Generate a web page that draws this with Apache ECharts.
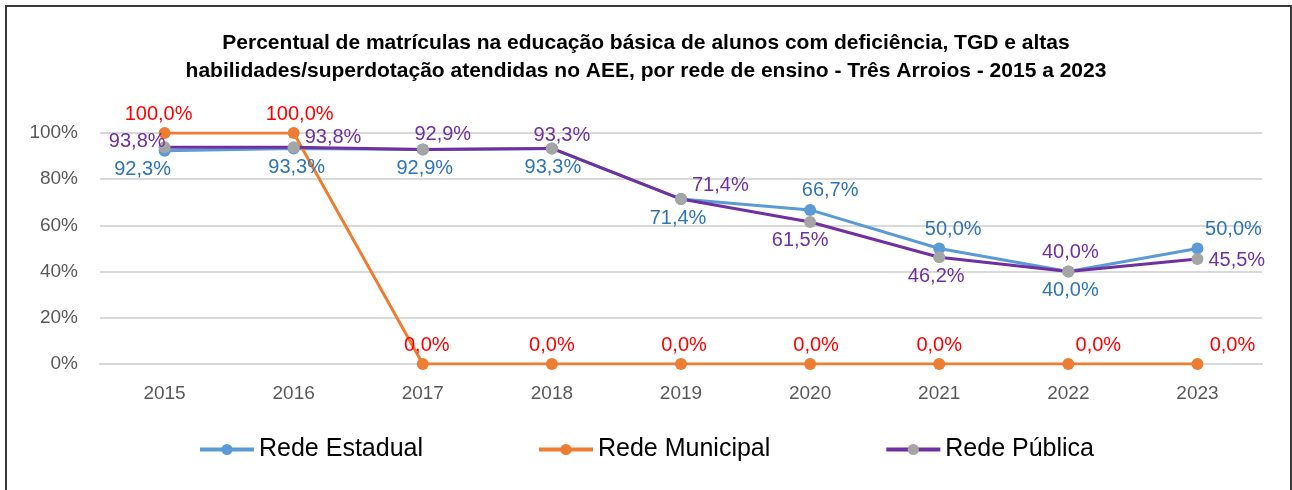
<!DOCTYPE html>
<html>
<head>
<meta charset="utf-8">
<script src="https://cdn.jsdelivr.net/npm/echarts@6/dist/echarts.min.js"></script>
<style>
  html, body { margin: 0; padding: 0; background: #fff; }
  #main { position: absolute; left: 0; top: 0; width: 1292px; height: 490px; }
  #frame { position: absolute; left: 5px; top: 5px; width: 1283px; height: 500px; border: 2px solid #3a3a3a; pointer-events: none; }
</style>
</head>
<body>
<div id="main"></div>
<div id="frame"></div>
<script>
const years = ['2015', '2016', '2017', '2018', '2019', '2020', '2021', '2022', '2023']
const estadual = [92.3, 93.3, 92.9, 93.3, 71.4, 66.7, 50.0, 40.0, 50.0]
const municipal = [100, 100, 0, 0, 0, 0, 0, 0, 0]
const publica = [93.8, 93.8, 92.9, 93.3, 71.4, 61.5, 46.2, 40.0, 45.5]
const yTicks = [0, 20, 40, 60, 80, 100]

// label placement per point, copied by eye from the reference
const estadualPos = [['bottom', [-22, -2]], ['bottom', [3, -2]], ['bottom', [2, -2]], ['bottom', [1, -2]], ['bottom', [-3, -2]], ['top', [20, 2]], ['top', [14, 2]], ['bottom', [2, -2]], ['top', [36, 2]]]
const municipalPos = [['top', [-6, 2]], ['top', [6, 2]], ['top', [4, 2]], ['top', [0, 2]], ['top', [3, 2]], ['top', [6, 2]], ['top', [0, 2]], ['top', [30, 2]], ['top', [35, 2]]]
const publicaPos = [['left', [12, -6]], ['right', [0, -10]], ['top', [20, 6]], ['top', [10, 8]], ['right', [0, -14]], ['bottom', [-10, -2]], ['bottom', [-3, -2]], ['top', [2, 2]], ['right', [0, 2]]]

const fmt = (v) => v.toFixed(1).replace('.', ',') + '%'
const font = 'Liberation Sans'

function buildData(values, pos) {
  return values.map((v, i) => ({
    value: v,
    label: { position: pos[i][0], offset: pos[i][1] }
  }))
}

const chart = echarts.init(document.getElementById('main'))
chart.setOption({
  animation: false,
  textStyle: { fontFamily: font },
  title: {
    text: 'Percentual de matrículas na educação básica de alunos com deficiência, TGD e altas\nhabilidades/superdotação atendidas no AEE, por rede de ensino - Três Arroios - 2015 a 2023',
    left: 'center',
    top: 24,
    textStyle: { fontFamily: font, fontSize: 21, fontWeight: 'bold', color: '#000', lineHeight: 28 }
  },
  legend: {
    bottom: 23,
    left: 'center',
    itemWidth: 54,
    itemHeight: 14,
    itemGap: 114,
    lineStyle: { width: 4 },
    textStyle: { fontFamily: font, fontSize: 25, color: '#000' },
    data: ['Rede Estadual', 'Rede Municipal', 'Rede Pública']
  },
  grid: { left: 100, right: 30, top: 133, bottom: 126 },
  xAxis: {
    type: 'category',
    data: years,
    axisLine: { lineStyle: { color: '#d9d9d9', width: 2 } },
    axisTick: { show: false },
    axisLabel: { color: '#595959', fontSize: 19, margin: 20 }
  },
  yAxis: {
    type: 'value',
    min: yTicks[0],
    max: yTicks[yTicks.length - 1],
    interval: yTicks[1] - yTicks[0],
    axisLine: { show: false },
    axisTick: { show: false },
    splitLine: { lineStyle: { color: '#d9d9d9', width: 2 } },
    axisLabel: { color: '#595959', fontSize: 19, margin: 22, formatter: '{value}%' }
  },
  series: [
    {
      name: 'Rede Estadual',
      type: 'line',
      data: buildData(estadual, estadualPos),
      symbol: 'circle',
      symbolSize: 12,
      lineStyle: { color: '#5b9bd5', width: 3 },
      itemStyle: { color: '#5b9bd5' },
      label: { show: true, color: '#2e75b6', fontSize: 20, formatter: (p) => fmt(p.value) }
    },
    {
      name: 'Rede Municipal',
      type: 'line',
      data: buildData(municipal, municipalPos),
      symbol: 'circle',
      symbolSize: 12,
      lineStyle: { color: '#ed7d31', width: 3 },
      itemStyle: { color: '#ed7d31' },
      label: { show: true, color: '#ff0000', fontSize: 20, formatter: (p) => fmt(p.value) }
    },
    {
      name: 'Rede Pública',
      type: 'line',
      data: buildData(publica, publicaPos),
      symbol: 'circle',
      symbolSize: 12,
      lineStyle: { color: '#7030a0', width: 3 },
      itemStyle: { color: '#a5a5a5' },
      label: { show: true, color: '#7030a0', fontSize: 20, formatter: (p) => fmt(p.value) }
    }
  ]
})
</script>
</body>
</html>
